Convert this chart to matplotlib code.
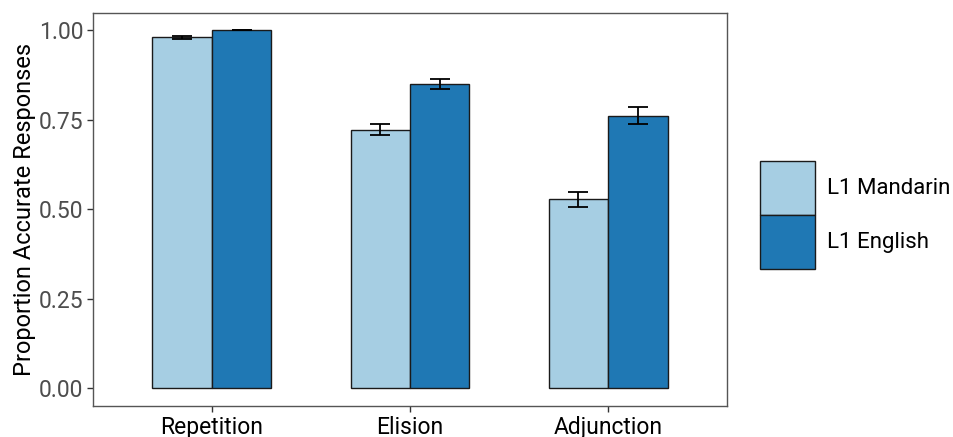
import matplotlib
matplotlib.use("Agg")
import matplotlib.pyplot as plt
import numpy as np
from matplotlib.patches import Patch

plt.rcParams['font.family'] = ['Roboto', 'DejaVu Sans']

tasks = ["Repetition", "Elision", "Adjunction"]
groups = ["L1 Mandarin", "L1 English"]
mandarin_mean = [0.980, 0.722, 0.527]
mandarin_se = [0.004, 0.015, 0.020]
english_mean = [1.000, 0.849, 0.761]
english_se = [0.000, 0.013, 0.023]
colors = ["#a6cee3", "#1f78b4"]
y_ticks = [0.00, 0.25, 0.50, 0.75, 1.00]

fig = plt.figure(figsize=(9.54, 4.37), dpi=100)
ax = fig.add_axes([93 / 954, 1 - 406 / 437, (727 - 93) / 954, (406 - 13) / 437])

x = np.arange(1, len(tasks) + 1)
bw = 0.3
series = [(mandarin_mean, mandarin_se), (english_mean, english_se)]
for i, (means, ses) in enumerate(series):
    xpos = x + (i - 0.5) * bw
    ax.bar(xpos, means, width=bw, color=colors[i], edgecolor="#1a1a1a",
           linewidth=1.0, zorder=2)
    ax.errorbar(xpos, means, yerr=ses, fmt="none", ecolor="black",
                elinewidth=1.3, capsize=7.2, capthick=1.3, zorder=3)

ax.set_xlim(0.4, 3.6)
ax.set_ylim(-0.05, 1.0475)
ax.set_xticks(x)
ax.set_xticklabels(tasks, fontsize=16.5, color="black")
ax.set_yticks(y_ticks)
ax.set_yticklabels([f"{v:.2f}" for v in y_ticks], fontsize=16.5, color="#4d4d4d")
ax.tick_params(axis="both", length=4, width=1, color="#333333")
ax.tick_params(axis="x", pad=3)
ax.tick_params(axis="y", pad=3)
ax.set_ylabel("Proportion Accurate Responses", fontsize=17, color="black", labelpad=2)
for sp in ax.spines.values():
    sp.set_color("#555555")
    sp.set_linewidth(1.0)

handles = [Patch(facecolor=colors[i], edgecolor="#1a1a1a", linewidth=1.0, label=groups[i])
           for i in range(2)]
fig.legend(handles=handles, loc="center left", bbox_to_anchor=(760 / 954, 1 - 215 / 437),
           frameon=False, fontsize=16, handlelength=2.48, handleheight=3.36,
           handletextpad=0.55, labelspacing=0.0, borderpad=0, borderaxespad=0)

fig.savefig("out.png", dpi=100)
